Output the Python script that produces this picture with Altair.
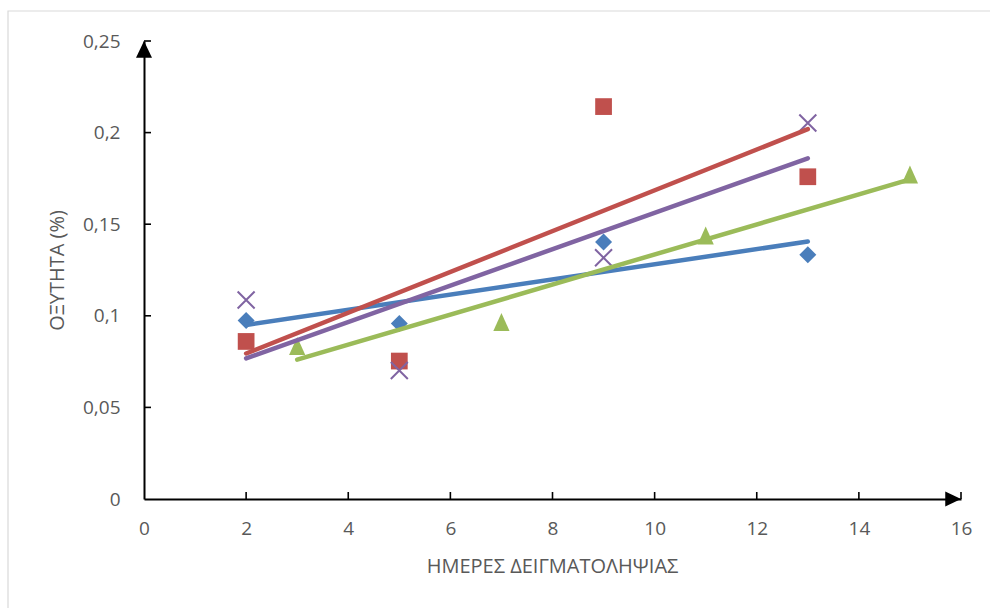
import altair as alt
import pandas as pd

# Sampling days and measured acidity (%) for the four series
days_blue = [2, 5, 9, 13]
acid_blue = [0.0975, 0.0958, 0.1403, 0.1333]

days_red = [2, 5, 9, 13]
acid_red = [0.0860, 0.0753, 0.2142, 0.1759]

days_green = [3, 7, 11, 15]
acid_green = [0.0835, 0.0966, 0.1439, 0.1771]

days_purple = [2, 5, 9, 13]
acid_purple = [0.1086, 0.0701, 0.1317, 0.2052]

x_ticks = [0, 2, 4, 6, 8, 10, 12, 14, 16]
y_ticks = [0, 0.05, 0.10, 0.15, 0.20, 0.25]

W, H = 817, 458
FONT = "Open Sans"
TEXT_GRAY = "#595959"

BLUE = "#4A7EBB"
RED = "#C0504D"
GREEN = "#9BBB59"
PURPLE = "#8064A2"

x_scale = alt.Scale(domain=[0, 16], nice=False, zero=False)
y_scale = alt.Scale(domain=[0, 0.25], nice=False, zero=False)

x_axis = alt.Axis(
    values=x_ticks, ticks=False, grid=False,
    domainColor="black", domainWidth=2,
    labelColor=TEXT_GRAY, labelFont=FONT, labelFontSize=19,
    labelPadding=20, labelFlush=False, labelOverlap=False,
    title="ΗΜΕΡΕΣ ΔΕΙΓΜΑΤΟΛΗΨΙΑΣ", titleColor=TEXT_GRAY, titleFont=FONT,
    titleFontSize=20, titleFontWeight="normal",
    titleX=408, titleY=67, titleAlign="center", titleBaseline="middle",
)
y_axis = alt.Axis(
    values=y_ticks, ticks=False, grid=False,
    domainColor="black", domainWidth=2,
    labelColor=TEXT_GRAY, labelFont=FONT, labelFontSize=19,
    labelPadding=24, labelFlush=False, labelOverlap=False,
    labelExpr="replace(format(datum.value, '.2~f'), '.', ',')",
    title="ΟΞΥΤΗΤΑ (%)", titleColor=TEXT_GRAY, titleFont=FONT,
    titleFontSize=20, titleFontWeight="normal",
    titleX=-87, titleY=229, titleAlign="center", titleBaseline="middle",
    titleAngle=270,
)


def frame(days, acid):
    return pd.DataFrame({"day": days, "acid": acid})


def enc(chart):
    return chart.encode(
        x=alt.X("day:Q", scale=x_scale, axis=x_axis),
        y=alt.Y("acid:Q", scale=y_scale, axis=y_axis),
    )


# chart-area border
border = alt.Chart(pd.DataFrame({"k": [0]})).mark_rect(
    fill=None, stroke="#D9D9D9", strokeWidth=1.2
).encode(
    x=alt.value(-136), x2=alt.value(W + 40),
    y=alt.value(-30), y2=alt.value(H + 120),
)

# markers
pts_blue = enc(alt.Chart(frame(days_blue, acid_blue)).mark_point(
    shape="diamond", filled=True, size=289, color=BLUE, opacity=1))
pts_red = enc(alt.Chart(frame(days_red, acid_red)).mark_point(
    shape="square", filled=True, size=280, color=RED, opacity=1))
pts_green = enc(alt.Chart(frame(days_green, acid_green)).mark_point(
    shape="M0,-1L-0.9,1L0.9,1Z", filled=True, size=324, color=GREEN, opacity=1))
pts_purple = enc(alt.Chart(frame(days_purple, acid_purple)).mark_point(
    shape="M-1,-1L1,1M1,-1L-1,1", filled=False, size=289, color=PURPLE,
    strokeWidth=2, opacity=1))


# linear trend lines
def trend(days, acid, color):
    return enc(
        alt.Chart(frame(days, acid))
        .transform_regression("day", "acid", method="linear")
        .mark_line(color=color, strokeWidth=4.5, strokeCap="round")
    )


lines = [
    trend(days_blue, acid_blue, BLUE),
    trend(days_red, acid_red, RED),
    trend(days_green, acid_green, GREEN),
    trend(days_purple, acid_purple, PURPLE),
]

# inward tick marks
xt = alt.Chart(pd.DataFrame({"day": x_ticks[1:]})).mark_rule(
    color="black", strokeWidth=1.6
).encode(x=alt.X("day:Q", scale=x_scale), y=alt.value(H), y2=alt.value(H - 7))
yt = alt.Chart(pd.DataFrame({"acid": y_ticks[1:]})).mark_rule(
    color="black", strokeWidth=1.6
).encode(y=alt.Y("acid:Q", scale=y_scale), x=alt.value(0), x2=alt.value(7))

# arrowheads at the axis ends
arrow_up = alt.Chart(pd.DataFrame({"day": [0], "acid": [0.25]})).mark_point(
    shape="M0,0L-1,2.1L1,2.1Z", filled=True, size=256, color="black", opacity=1
).encode(x=alt.X("day:Q", scale=x_scale), y=alt.Y("acid:Q", scale=y_scale))
arrow_right = alt.Chart(pd.DataFrame({"day": [16], "acid": [0]})).mark_point(
    shape="M0,0L-2.1,-1L-2.1,1Z", filled=True, size=225, color="black", opacity=1
).encode(x=alt.X("day:Q", scale=x_scale), y=alt.Y("acid:Q", scale=y_scale))

chart = alt.layer(
    border, pts_blue, pts_red, pts_green, pts_purple, *lines,
    xt, yt, arrow_up, arrow_right,
).properties(
    width=W, height=H,
    autosize=alt.AutoSizeParams(type="none"),
    padding={"left": 144, "top": 41, "right": 29, "bottom": 109},
    background="white",
).configure_view(stroke=None)

chart.save("out.html", embed_options={"renderer": "svg", "actions": False})
